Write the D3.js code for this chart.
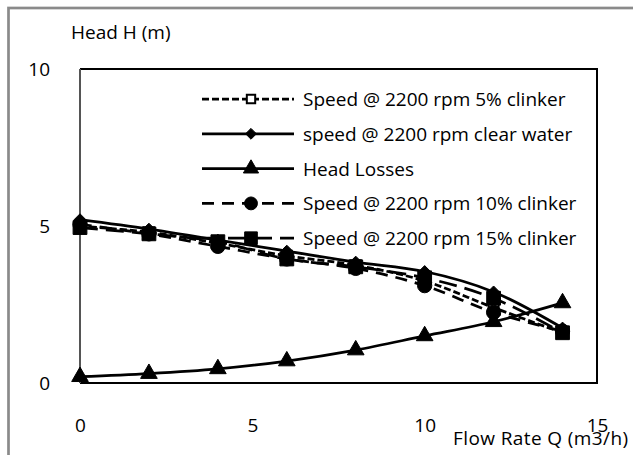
<!DOCTYPE html>
<html>
<head>
<meta charset="utf-8">
<script src="https://cdn.jsdelivr.net/npm/d3@7"></script>
<style>
  body { margin: 0; background: #fff; }
  text { font-family: "Open Sans", sans-serif; fill: #000; }
</style>
</head>
<body>
<script>
// flow rate Q (m3/h)
var flow = [0, 2, 4, 6, 8, 10, 12, 14];

// head H (m) per series
var clinker5   = [5.0, 4.8, 4.45, 4.05, 3.75, 3.25, 2.4, 1.6];
var clearWater = [5.2, 4.9, 4.55, 4.2, 3.85, 3.55, 2.9, 1.75];
var headLosses = [0.2, 0.3, 0.45, 0.7, 1.05, 1.5, 1.95, 2.55];
var clinker10  = [5.05, 4.75, 4.35, 3.95, 3.65, 3.1, 2.25, 1.65];
var clinker15  = [4.95, 4.75, 4.5, 3.95, 3.7, 3.35, 2.7, 1.6];

var seriesNames = [
  "Speed @ 2200 rpm 5% clinker",
  "speed @ 2200 rpm clear water",
  "Head Losses",
  "Speed @ 2200 rpm 10% clinker",
  "Speed @ 2200 rpm 15% clinker"
];

var xTicks = [0, 5, 10, 15];
var yTicks = [0, 5, 10];

var W = 633, H = 455;
var margin = {top: 69, right: 36, bottom: 72, left: 80},
    width = W - margin.left - margin.right,
    height = H - margin.top - margin.bottom;

var x = d3.scaleLinear().domain([0, 15]).range([0, width]);
var y = d3.scaleLinear().domain([0, 10]).range([height, 0]);

var svgRoot = d3.select("body").append("svg")
    .attr("width", W)
    .attr("height", H);

// outer chart frame (runs past the picture edge)
svgRoot.append("rect")
    .attr("x", 8.5).attr("y", 8)
    .attr("width", W + 20).attr("height", H + 20)
    .attr("fill", "none")
    .attr("stroke", "#8a8a8a")
    .attr("stroke-width", 2.7);

var svg = svgRoot.append("g")
    .attr("transform", "translate(" + margin.left + "," + margin.top + ")");

// plot border: black top/right/bottom, grey value axis
svg.append("path")
    .attr("d", "M0,0H" + width + "V" + height + "H0")
    .attr("fill", "none")
    .attr("stroke", "#000")
    .attr("stroke-width", 2);
svg.append("line")
    .attr("x1", 0).attr("x2", 0)
    .attr("y1", 0).attr("y2", height)
    .attr("stroke", "#555")
    .attr("stroke-width", 2);

// axes (labels only, no tick marks)
var xAxis = svg.append("g")
    .attr("transform", "translate(0," + height + ")")
    .call(d3.axisBottom(x).tickValues(xTicks).tickSize(0).tickPadding(36));
var yAxis = svg.append("g")
    .call(d3.axisLeft(y).tickValues(yTicks).tickSize(0).tickPadding(30));
[xAxis, yAxis].forEach(function(a) {
  a.select(".domain").remove();
  a.selectAll("text")
    .style("font-family", "'Open Sans', sans-serif")
    .style("font-size", "19px")
    .attr("fill", "#000");
});

svgRoot.append("text")
    .attr("x", 71).attr("y", 39)
    .style("font-size", "19px")
    .text("Head H (m)");

svgRoot.append("text")
    .attr("x", 453).attr("y", 445)
    .style("font-size", "19px")
    .style("letter-spacing", "0.4px")
    .text("Flow Rate Q (m3/h)");

// series styles
var styles = [
  {dash: "7,3",  symbol: d3.symbolSquare,   size: 100, fill: "#fff"},
  {dash: null,   symbol: d3.symbolDiamond2, size: 90,  fill: "#000"},
  {dash: null,   symbol: d3.symbolTriangle, size: 120, fill: "#000"},
  {dash: "12,8", symbol: d3.symbolCircle,   size: 160, fill: "#000"},
  {dash: "18,8", symbol: d3.symbolSquare,   size: 190, fill: "#000"}
];
var allSeries = [clinker5, clearWater, headLosses, clinker10, clinker15];

var line = d3.line()
    .x(function(d) { return x(d[0]); })
    .y(function(d) { return y(d[1]); })
    .curve(d3.curveCatmullRom.alpha(0.5));

allSeries.forEach(function(vals, i) {
  var pts = flow.map(function(q, j) { return [q, vals[j]]; });
  var st = styles[i];
  svg.append("path")
      .datum(pts)
      .attr("d", line)
      .attr("fill", "none")
      .attr("stroke", "#000")
      .attr("stroke-width", 2.75)
      .attr("stroke-dasharray", st.dash);
  svg.selectAll(".m" + i)
      .data(pts)
    .enter().append("path")
      .attr("class", "m" + i)
      .attr("transform", function(d) { return "translate(" + x(d[0]) + "," + y(d[1]) + ")"; })
      .attr("d", d3.symbol().type(st.symbol).size(st.size))
      .attr("fill", st.fill)
      .attr("stroke", "#000")
      .attr("stroke-width", i === 0 ? 2 : 1);
});

// legend
var legend = svgRoot.append("g").attr("transform", "translate(202,99)");
var legendSizes = [70, 75, 100, 130, 160];
seriesNames.forEach(function(name, i) {
  var st = styles[i];
  var row = legend.append("g").attr("transform", "translate(0," + (i * 34.8) + ")");
  row.append("line")
      .attr("x1", 0).attr("x2", 92)
      .attr("stroke", "#000")
      .attr("stroke-width", 2.75)
      .attr("stroke-dasharray", st.dash);
  row.append("path")
      .attr("transform", "translate(49,0)")
      .attr("d", d3.symbol().type(st.symbol).size(legendSizes[i]))
      .attr("fill", st.fill)
      .attr("stroke", "#000")
      .attr("stroke-width", i === 0 ? 2 : 1);
  row.append("text")
      .attr("x", 101).attr("y", 7)
      .style("font-size", "19px")
      .text(name);
});
</script>
</body>
</html>
